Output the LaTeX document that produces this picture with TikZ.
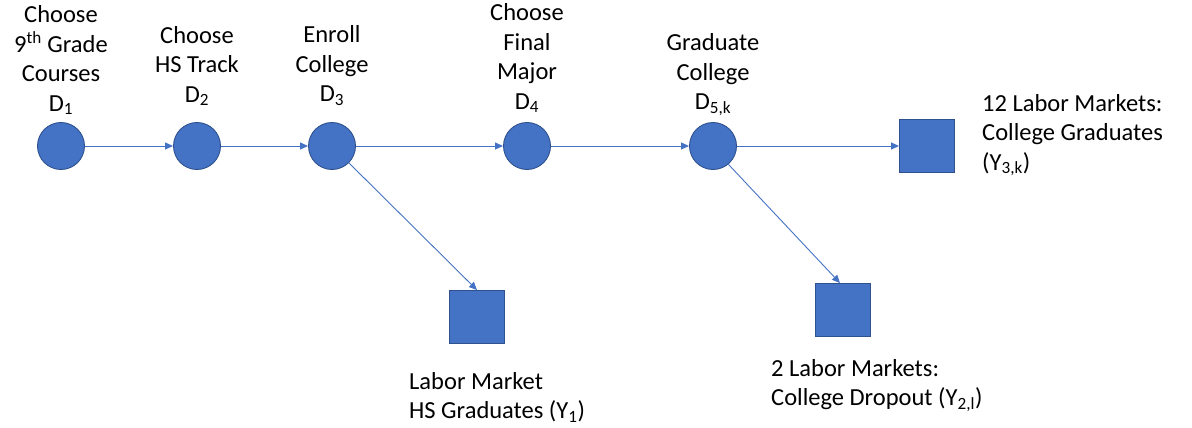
\documentclass[tikz,border=0pt]{standalone}
\usepackage{fontspec}
\setmainfont{Carlito}
\usetikzlibrary{arrows.meta}
\definecolor{ofblue}{HTML}{4472C4}
\definecolor{ofedge}{HTML}{2F528F}
\tikzset{
  decision/.style={circle, fill=ofblue, draw=ofedge, line width=0.9pt, minimum size=47pt, inner sep=0pt},
  outcome/.style={rectangle, fill=ofblue, draw=ofedge, line width=0.9pt, minimum width=55pt, minimum height=53pt, inner sep=0pt},
  conn/.style={draw=ofblue, line width=0.9pt, -{Triangle[length=8pt,width=7pt]}},
  toplbl/.style={anchor=south, align=center, inner sep=0pt, font=\fontsize{24.5}{29.5}\selectfont},
  sidelbl/.style={anchor=north west, align=left, inner sep=0pt, font=\fontsize{24.5}{29.5}\selectfont}
}
\begin{document}
\begin{tikzpicture}[x=1pt,y=-1pt]
\useasboundingbox (0,0) rectangle (1192,428);
\node[decision] (d1) at (61,146) {};
\node[decision] (d2) at (197,146) {};
\node[decision] (d3) at (332,146) {};
\node[decision] (d4) at (527,146) {};
\node[decision] (d5) at (713,146) {};
\node[outcome] (y3) at (927,146) {};
\node[outcome] (y1) at (477,317) {};
\node[outcome] (y2) at (843,310) {};

\node[toplbl] (l1) at (61,115) {Choose\\9\textsuperscript{th} Grade\\Courses\\D\textsubscript{1}};
\node[toplbl] (l2) at (197,106) {Choose\\HS Track\\D\textsubscript{2}};
\node[toplbl] (l3) at (332,106) {Enroll\\College\\D\textsubscript{3}};
\node[toplbl] (l4) at (527,113) {Choose\\Final\\Major\\D\textsubscript{4}};
\node[toplbl] (l5) at (713,116) {Graduate\\College\\D\textsubscript{5,k}};
\node[sidelbl] (ly3) at (982,94) {12 Labor Markets:\\College Graduates\\(Y\textsubscript{3,k})};
\node[sidelbl] (ly1) at (409,372) {Labor Market\\HS Graduates (Y\textsubscript{1})};
\node[sidelbl] (ly2) at (771,359) {2 Labor Markets:\\College Dropout (Y\textsubscript{2,l})};

\draw[conn] (d1) -- (d2);
\draw[conn] (d2) -- (d3);
\draw[conn] (d3) -- (d4);
\draw[conn] (d4) -- (d5);
\draw[conn] (d5) -- (y3);
\draw[conn] (d3.-45) -- (y1.north);
\draw[conn] (d5.-50) -- ([xshift=-3pt]y2.north);
\end{tikzpicture}
\end{document}
